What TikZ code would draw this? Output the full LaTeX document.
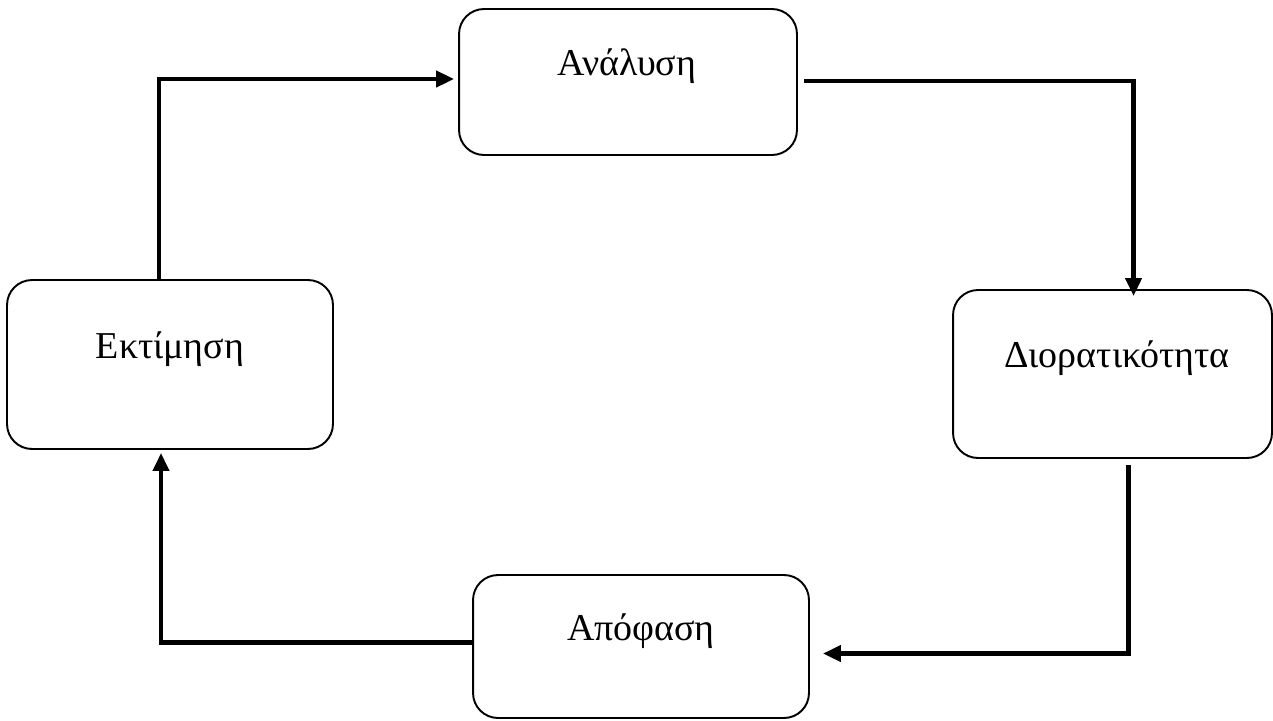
\documentclass[tikz,border=0pt]{standalone}
\usepackage{fontspec}
\setmainfont{Liberation Serif}
\usepackage{tikz}
\usetikzlibrary{arrows.meta,positioning,calc}
\tikzset{
  flow/.style={-{Triangle[length=3.6mm,width=3.2mm]},black,line width=2.5pt},
  stage/.style={draw=black,line width=1.1pt,fill=white,rounded corners=5mm,
                inner sep=0pt,outer sep=0pt},
  stagetext/.style={anchor=base,text=black,font=\fontsize{21.6}{26}\selectfont},
}

\begin{document}
\begin{tikzpicture}[x=.02cm,y=-.02cm]
    \useasboundingbox (0,0) rectangle (1273,720);

    \node[stage,minimum width=6.76cm,minimum height=2.92cm] (anal) at (628,82) {};
    \node[stagetext] (analtext) at (627,75) {Ανάλυση};

    \node[stage,minimum width=6.38cm,minimum height=3.36cm] (dior) at (1112.5,374) {};
    \node[stagetext] (diortext) at (1117,367) {Διορατικότητα};

    \node[stage,minimum width=6.72cm,minimum height=2.86cm] (apof) at (641,646.5) {};
    \node[stagetext] (apoftext) at (641,640) {Απόφαση};

    \node[stage,minimum width=6.52cm,minimum height=3.38cm] (ektim) at (170,364.5) {};
    \node[stagetext] (ektimtext) at (170,358) {Εκτίμηση};

    % the cycle
    \draw[flow] ($(ektim.north)+(-11,-1)$) |- ($(anal.west)+(-5,-3)$);
    \draw[flow] ($(anal.east)+(7,-1)$) -| ($(dior.north)+(21,6)$);
    \draw[flow] ($(dior.south)+(16,7)$) |- ($(apof.east)+(14,7)$);
    \draw[flow] ($(apof.west)+(0,-4)$) -| ($(ektim.south)+(-9,4)$);
  \end{tikzpicture}
\end{document}
